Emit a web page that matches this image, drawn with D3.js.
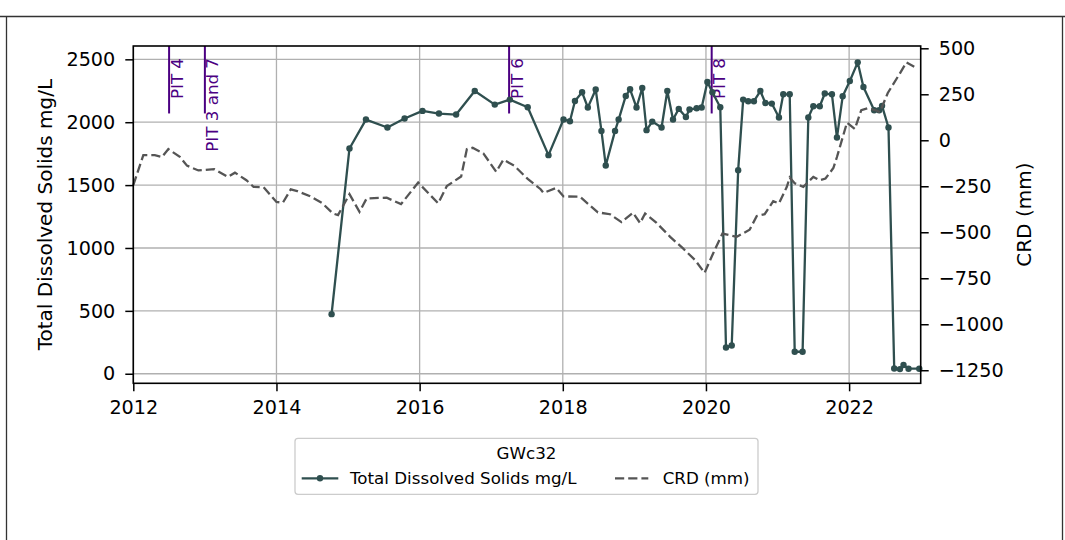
<!DOCTYPE html>
<html>
<head>
<meta charset="utf-8">
<script src="https://cdn.jsdelivr.net/npm/d3@7"></script>
<style>
  body { margin: 0; background: #fff; }
  svg { display: block; font-family: "DejaVu Sans", sans-serif; }
</style>
</head>
<body>
<svg id="chart" width="1065" height="540"></svg>
<script>
// TDS samples (decimal year, mg/L)
var tdsYears = [2014.77, 2015.02, 2015.25, 2015.55, 2015.79, 2016.04, 2016.27, 2016.51, 2016.77, 2017.05,
  2017.26, 2017.51, 2017.80, 2018.01, 2018.10, 2018.17, 2018.27, 2018.35, 2018.46, 2018.54,
  2018.60, 2018.73, 2018.78, 2018.88, 2018.94, 2019.03, 2019.11, 2019.17, 2019.25, 2019.38,
  2019.46, 2019.54, 2019.62, 2019.72, 2019.77, 2019.87, 2019.94, 2020.02, 2020.09, 2020.20,
  2020.28, 2020.36, 2020.45, 2020.52, 2020.59, 2020.67, 2020.76, 2020.83, 2020.92, 2021.02,
  2021.08, 2021.17, 2021.24, 2021.35, 2021.43, 2021.50, 2021.59, 2021.66, 2021.76, 2021.83,
  2021.91, 2022.01, 2022.12, 2022.20, 2022.35, 2022.42, 2022.46, 2022.55, 2022.63, 2022.71,
  2022.76, 2022.83, 2022.98];
var tdsValues = [474, 1791, 2021, 1958, 2029, 2090, 2069, 2061, 2248, 2140,
  2180, 2119, 1738, 2021, 2008, 2169, 2238, 2117, 2260, 1931,
  1656, 1931, 2021, 2209, 2262, 2117, 2272, 1937, 2005, 1958,
  2248, 2021, 2106, 2042, 2101, 2111, 2117, 2320, 2238, 2119,
  209, 225, 1619, 2180, 2167, 2167, 2248, 2153, 2148, 2037,
  2222, 2222, 175, 175, 2037, 2127, 2127, 2228, 2222, 1878,
  2206, 2328, 2476, 2280, 2095, 2095, 2130, 1958, 42, 37,
  69, 40, 40];

// CRD (cumulative rainfall deviation, mm)
var crdYears = [2012.00, 2012.14, 2012.30, 2012.40, 2012.49, 2012.65, 2012.75, 2012.91, 2013.13, 2013.32,
  2013.42, 2013.58, 2013.68, 2013.82, 2014.00, 2014.09, 2014.20, 2014.29, 2014.47, 2014.64,
  2014.79, 2014.86, 2015.02, 2015.16, 2015.26, 2015.54, 2015.74, 2015.98, 2016.26, 2016.38,
  2016.58, 2016.66, 2016.74, 2016.89, 2017.07, 2017.17, 2017.32, 2017.51, 2017.69, 2017.73,
  2017.91, 2018.01, 2018.24, 2018.49, 2018.66, 2018.82, 2018.98, 2019.08, 2019.15, 2019.31,
  2019.50, 2019.68, 2019.85, 2019.98, 2020.10, 2020.23, 2020.43, 2020.61, 2020.71, 2020.82,
  2020.94, 2021.02, 2021.13, 2021.17, 2021.24, 2021.36, 2021.50, 2021.59, 2021.67, 2021.78,
  2021.83, 2021.97, 2022.08, 2022.17, 2022.26, 2022.38, 2022.43, 2022.54, 2022.71, 2022.80,
  2022.91];
var crdValues = [-244, -81, -81, -91, -48, -90, -138, -164, -157, -199,
  -176, -217, -253, -255, -335, -339, -267, -276, -304, -342,
  -398, -407, -293, -389, -316, -312, -347, -230, -343, -249,
  -197, -48, -41, -71, -171, -105, -138, -210, -266, -286,
  -259, -305, -307, -392, -402, -445, -394, -450, -398, -449,
  -525, -588, -652, -721, -615, -507, -525, -486, -412, -402,
  -331, -343, -253, -203, -234, -253, -199, -217, -208, -151,
  -91, 96, 61, 164, 174, 162, 153, 257, 364, 423,
  400];

var pitYears = [2012.5, 2013.0, 2017.25, 2020.08];
var pitLabels = ["PIT 4", "PIT 3 and 7", "PIT 6", "PIT 8"];

var xTicks = [2012, 2014, 2016, 2018, 2020, 2022];
var leftTicks = [0, 500, 1000, 1500, 2000, 2500];
var rightTicks = [-1250, -1000, -750, -500, -250, 0, 250, 500];

var legendTitle = "GWc32";
var legendLabels = ["Total Dissolved Solids mg/L", "CRD (mm)"];
var leftLabel = "Total Dissolved Solids mg/L";
var rightLabel = "CRD (mm)";

var tdsColor = "#2f4f4f", crdColor = "#555555", pitColor = "#4b0082";
var plot = {left: 133.3, right: 920.7, top: 46, bottom: 383.3};

var svg = d3.select("#chart");

// outer page frame
svg.append("path")
    .attr("d", "M0,16.5H1065M6.5,16.5V540M1062.5,16.5V540")
    .attr("fill", "none").attr("stroke", "#333").attr("stroke-width", 1.3);

var x = d3.scaleLinear().domain([2012, 2023]).range([plot.left, plot.right]);
var yL = d3.scaleLinear().domain([-76, 2606]).range([plot.bottom, plot.top]);
var yR = d3.scaleLinear().domain([-1321, 512.5]).range([plot.bottom, plot.top]);

// grid
var grid = svg.append("g").attr("stroke", "#b0b0b0").attr("stroke-width", 1.3);
grid.selectAll("line.vx").data(xTicks).enter().append("line")
    .attr("x1", d => x(d)).attr("x2", d => x(d))
    .attr("y1", plot.top).attr("y2", plot.bottom);
grid.selectAll("line.hy").data(leftTicks).enter().append("line")
    .attr("x1", plot.left).attr("x2", plot.right)
    .attr("y1", d => yL(d)).attr("y2", d => yL(d));

// PIT markers
var pits = svg.append("g");
pits.selectAll("line").data(pitYears).enter().append("line")
    .attr("x1", d => x(d)).attr("x2", d => x(d))
    .attr("y1", plot.top).attr("y2", plot.top + 0.2 * (plot.bottom - plot.top))
    .attr("stroke", pitColor).attr("stroke-width", 2);
pits.selectAll("text").data(pitYears).enter().append("text")
    .attr("transform", d => "translate(" + (x(d) + 13.5) + "," + 58 + ") rotate(-90)")
    .attr("text-anchor", "end")
    .attr("fill", pitColor)
    .style("font-size", "16.7px")
    .text((d, i) => pitLabels[i]);

// TDS series
var tds = tdsYears.map((t, i) => ({t: t, v: tdsValues[i]}));
svg.append("path").datum(tds)
    .attr("fill", "none").attr("stroke", tdsColor).attr("stroke-width", 2.3)
    .attr("stroke-linejoin", "round")
    .attr("d", d3.line().x(d => x(d.t)).y(d => yL(d.v)));
svg.append("g").selectAll("circle").data(tds).enter().append("circle")
    .attr("cx", d => x(d.t)).attr("cy", d => yL(d.v)).attr("r", 3.2)
    .attr("fill", tdsColor);

// CRD series
var crd = crdYears.map((t, i) => ({t: t, v: crdValues[i]}));
svg.append("path").datum(crd)
    .attr("fill", "none").attr("stroke", crdColor).attr("stroke-width", 2.3)
    .attr("stroke-dasharray", "9.2,4")
    .attr("d", d3.line().x(d => x(d.t)).y(d => yR(d.v)));

// axes
function styleAxis(g) {
    g.selectAll(".domain").remove();
    g.selectAll(".tick line").attr("stroke", "#000").attr("stroke-width", 1.5);
    g.selectAll(".tick text").attr("fill", "#000")
        .style("font-size", "19.2px").style("font-family", "DejaVu Sans");
}
svg.append("g").attr("transform", "translate(0," + plot.bottom + ")")
    .call(d3.axisBottom(x).tickValues(xTicks).tickFormat(d3.format("d")).tickSize(8).tickPadding(9))
    .call(styleAxis);
svg.append("g").attr("transform", "translate(" + plot.left + ",0)")
    .call(d3.axisLeft(yL).tickValues(leftTicks).tickFormat(d3.format("d")).tickSize(8).tickPadding(10))
    .call(styleAxis);
svg.append("g").attr("transform", "translate(" + plot.right + ",0)")
    .call(d3.axisRight(yR).tickValues(rightTicks).tickFormat(d3.format("d")).tickSize(8).tickPadding(10))
    .call(styleAxis);

svg.append("rect")
    .attr("x", plot.left).attr("y", plot.top)
    .attr("width", plot.right - plot.left).attr("height", plot.bottom - plot.top)
    .attr("fill", "none").attr("stroke", "#000").attr("stroke-width", 1.6);

// axis titles
svg.append("text")
    .attr("transform", "translate(45," + (plot.top + plot.bottom) / 2 + ") rotate(-90)")
    .attr("text-anchor", "middle").attr("dy", "0.35em")
    .style("font-size", "20px").text(leftLabel);
svg.append("text")
    .attr("transform", "translate(1024," + (plot.top + plot.bottom) / 2 + ") rotate(-90)")
    .attr("text-anchor", "middle").attr("dy", "0.35em")
    .style("font-size", "20px").text(rightLabel);

// legend
var lg = svg.append("g");
lg.append("rect").attr("x", 295).attr("y", 438.3).attr("width", 463).attr("height", 56)
    .attr("rx", 3).attr("fill", "#fff").attr("stroke", "#cccccc").attr("stroke-width", 1.3);
lg.append("text").attr("x", 526.5).attr("y", 452.7).attr("dy", "0.35em")
    .attr("text-anchor", "middle").style("font-size", "16.7px").text(legendTitle);
var ly = 478.3;
lg.append("line").attr("x1", 301.7).attr("x2", 338.3).attr("y1", ly).attr("y2", ly)
    .attr("stroke", tdsColor).attr("stroke-width", 2.3);
lg.append("circle").attr("cx", 320).attr("cy", ly).attr("r", 3.2).attr("fill", tdsColor);
lg.append("line").attr("x1", 615).attr("x2", 648.3).attr("y1", ly).attr("y2", ly)
    .attr("stroke", crdColor).attr("stroke-width", 2.3).attr("stroke-dasharray", "9.2,4");
lg.selectAll("text.item").data(legendLabels).enter().append("text")
    .attr("class", "item")
    .attr("x", (d, i) => i === 0 ? 350 : 662.7).attr("y", ly).attr("dy", "0.35em")
    .style("font-size", "16.7px").text(d => d);
</script>
</body>
</html>
